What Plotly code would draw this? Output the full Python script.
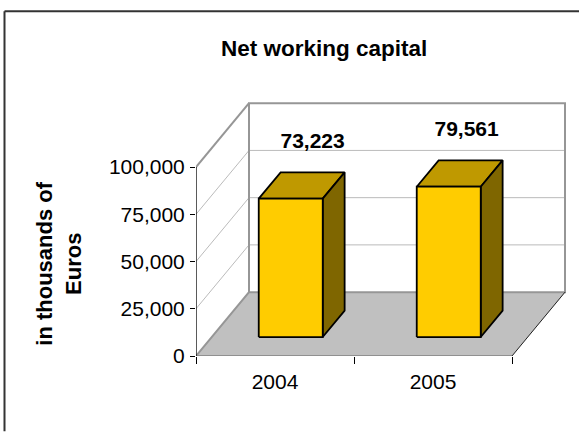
import plotly.graph_objects as go

# Chart content
categories = ["2004", "2005"]
values = [73223, 79561]
value_labels = ["73,223", "79,561"]
value_ticks = [0, 25000, 50000, 75000, 100000]
value_tick_labels = ["0", "25,000", "50,000", "75,000", "100,000"]

# Canvas and plot area, in pixels
WIDTH, HEIGHT = 579, 432
LEFT, TOP, RIGHT, BOTTOM = 196, 102, 13, 75.5
PX_PER_CATEGORY = 158
PX_PER_VALUE = 189.3 / 100000

# Oblique projection: how far the back wall is shifted from the front plane
DEPTH_X = 53 / PX_PER_CATEGORY
DEPTH_Y = 64 / PX_PER_VALUE

BAR_HALF_WIDTH = 32 / PX_PER_CATEGORY
BAR_DEPTH_FRONT = 0.297
BAR_DEPTH_BACK = 0.71
LABEL_LIFT = 30 / PX_PER_VALUE
LABEL_SHIFT_X = [0, -4 / PX_PER_CATEGORY]

N = len(categories)
VALUE_MAX = value_ticks[-1]
FONT = "Liberation Sans, Arial, sans-serif"


def project(x, value, depth):
    """Map a point of the 3D box onto the flat axes."""
    return x + depth * DEPTH_X, value + depth * DEPTH_Y


def polygon(points, fill=None, edge=None, edge_width=0):
    xy = [project(*p) for p in points]
    xs = [p[0] for p in xy]
    ys = [p[1] for p in xy]
    return go.Scatter(
        x=xs, y=ys, mode="lines",
        fill="toself" if fill else "none",
        fillcolor=fill,
        line=dict(color=edge or "rgba(0,0,0,0)", width=edge_width),
        cliponaxis=False, hoverinfo="skip", showlegend=False,
    )


traces = []

# Floor
traces.append(polygon([(0, 0, 0), (N, 0, 0), (N, 0, 1), (0, 0, 1), (0, 0, 0)], fill="#C0C0C0"))

# Gridlines on the back wall and the left wall
for tick in value_ticks[1:-1]:
    traces.append(polygon([(0, tick, 0), (0, tick, 1), (N, tick, 1)], edge="#BBBBBB", edge_width=1))

# Walls' outline
traces.append(polygon(
    [(0, 0, 0), (0, 0, 1), (0, VALUE_MAX, 1), (N, VALUE_MAX, 1), (N, 0, 1), (0, 0, 1)],
    edge="#969696", edge_width=2,
))
traces.append(polygon([(0, VALUE_MAX, 0), (0, VALUE_MAX, 1)], edge="#969696", edge_width=2))

# Floor edges
traces.append(polygon([(0, 0, 0), (N, 0, 0)], edge="#808080", edge_width=1.6))
traces.append(polygon([(N, 0, 0), (N, 0, 1)], edge="#202020", edge_width=1))

# Value axis line
traces.append(polygon([(0, 0, 0), (0, VALUE_MAX, 0)], edge="#000000", edge_width=1.3))

# Bars: top, side, then front face
for i, value in enumerate(values):
    x0 = i + 0.5 - BAR_HALF_WIDTH
    x1 = i + 0.5 + BAR_HALF_WIDTH
    df, db = BAR_DEPTH_FRONT, BAR_DEPTH_BACK
    traces.append(polygon(
        [(x0, value, df), (x1, value, df), (x1, value, db), (x0, value, db), (x0, value, df)],
        fill="#BF9900", edge="#000000", edge_width=1.8,
    ))
    traces.append(polygon(
        [(x1, 0, df), (x1, 0, db), (x1, value, db), (x1, value, df), (x1, 0, df)],
        fill="#7F6600", edge="#000000", edge_width=1.8,
    ))
    traces.append(polygon(
        [(x0, 0, df), (x1, 0, df), (x1, value, df), (x0, value, df), (x0, 0, df)],
        fill="#FFCC00", edge="#000000", edge_width=1.8,
    ))

# Value labels above the bars
label_points = [
    project(i + 0.5 + LABEL_SHIFT_X[i], value + LABEL_LIFT, BAR_DEPTH_BACK)
    for i, value in enumerate(values)
]
traces.append(go.Scatter(
    x=[p[0] for p in label_points], y=[p[1] for p in label_points],
    mode="text", text=value_labels, textposition="middle center",
    textfont=dict(family=FONT, size=21, color="#000000"),
    texttemplate="<b>%{text}</b>",
    cliponaxis=False, hoverinfo="skip", showlegend=False,
))

fig = go.Figure(traces)

plot_w = WIDTH - LEFT - RIGHT
plot_h = HEIGHT - TOP - BOTTOM


def paper_x(px):
    return (px - LEFT) / plot_w


def paper_y(px):
    return (HEIGHT - BOTTOM - px) / plot_h


fig.update_layout(
    width=WIDTH, height=HEIGHT,
    margin=dict(l=LEFT, t=TOP, r=RIGHT, b=BOTTOM, pad=0),
    paper_bgcolor="#FFFFFF", plot_bgcolor="rgba(0,0,0,0)",
    font=dict(family=FONT, color="#000000"),
    xaxis=dict(
        range=[0, plot_w / PX_PER_CATEGORY],
        tickvals=[i + 0.5 for i in range(N)], ticktext=categories,
        ticks="", showgrid=False, zeroline=False, showline=False,
        tickfont=dict(family=FONT, size=21, color="#000000"),
        ticklabelstandoff=11,
        minor=dict(tickvals=list(range(N + 1)), ticks="outside", ticklen=7,
                   tickwidth=1.2, tickcolor="#000000", showgrid=False),
    ),
    yaxis=dict(
        range=[0, plot_h / PX_PER_VALUE],
        tickvals=value_ticks, ticktext=value_tick_labels,
        ticks="outside", ticklen=5, tickwidth=1.2, tickcolor="#000000",
        showgrid=False, zeroline=False, showline=False,
        tickfont=dict(family=FONT, size=21, color="#000000"),
        ticklabelstandoff=1,
    ),
    shapes=[
        dict(type="line", xref="paper", yref="paper",
             x0=paper_x(4.5), y0=paper_y(11), x1=paper_x(WIDTH), y1=paper_y(11),
             line=dict(color="#333333", width=2)),
        dict(type="line", xref="paper", yref="paper",
             x0=paper_x(4.5), y0=paper_y(11), x1=paper_x(4.5), y1=paper_y(HEIGHT),
             line=dict(color="#333333", width=2)),
    ],
    annotations=[
        dict(text="<b>Net working capital</b>", xref="paper", yref="paper",
             x=paper_x(323.5), y=paper_y(48), xanchor="center", yanchor="middle",
             showarrow=False, font=dict(family=FONT, size=22.5, color="#000000")),
        dict(text="<b>in thousands of<br>Euros</b>", xref="paper", yref="paper",
             x=paper_x(59), y=paper_y(264), xanchor="center", yanchor="middle",
             textangle=-90, showarrow=False, align="center",
             font=dict(family=FONT, size=22, color="#000000")),
    ],
)

fig.write_html("out.html")
